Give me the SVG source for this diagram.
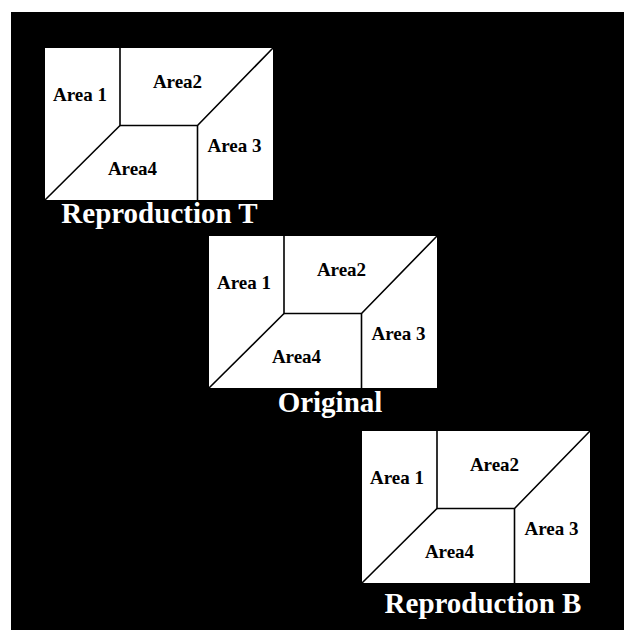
<svg xmlns="http://www.w3.org/2000/svg" width="624" height="630" viewBox="0 0 624 630">
<style>
.panel{fill:#fff;stroke:none}
.div{fill:none;stroke:#000;stroke-width:1.6;stroke-linejoin:miter}
.lbl{font-family:"Liberation Serif","Times New Roman",serif;font-weight:bold;font-size:19px;fill:#000;text-anchor:middle}
.ttl{font-family:"Liberation Serif","Times New Roman",serif;font-weight:bold;font-size:29px;fill:#fff;text-anchor:middle}
</style>
<defs>
<g id="layout">
<rect class="panel" x="0" y="0" width="228" height="152"/>
<polyline class="div" points="75,0 75,77.5 152.5,77.5 228,0"/>
<line class="div" x1="75" y1="77.5" x2="0" y2="152"/>
<line class="div" x1="152.5" y1="77.5" x2="152.5" y2="152"/>
<text class="lbl" x="35" y="53">Area 1</text>
<text class="lbl" x="132.5" y="39.5">Area2</text>
<text class="lbl" x="189.5" y="104">Area 3</text>
<text class="lbl" x="87.5" y="127">Area4</text>
</g>
</defs>
<rect x="0" y="0" width="624" height="630" fill="#fff"/>
<rect x="11" y="12" width="613" height="618" fill="#000"/>
<g id="reproduction-t">
<use href="#layout" transform="translate(45,48)"/>
<text class="ttl" x="159.5" y="222.5">Reproduction T</text>
</g>
<g id="original">
<use href="#layout" transform="translate(209,236)"/>
<text class="ttl" x="330" y="412">Original</text>
</g>
<g id="reproduction-b">
<use href="#layout" transform="translate(362,431)"/>
<text class="ttl" x="483" y="612.5">Reproduction B</text>
</g>
<g id="connectors"></g>
</svg>
